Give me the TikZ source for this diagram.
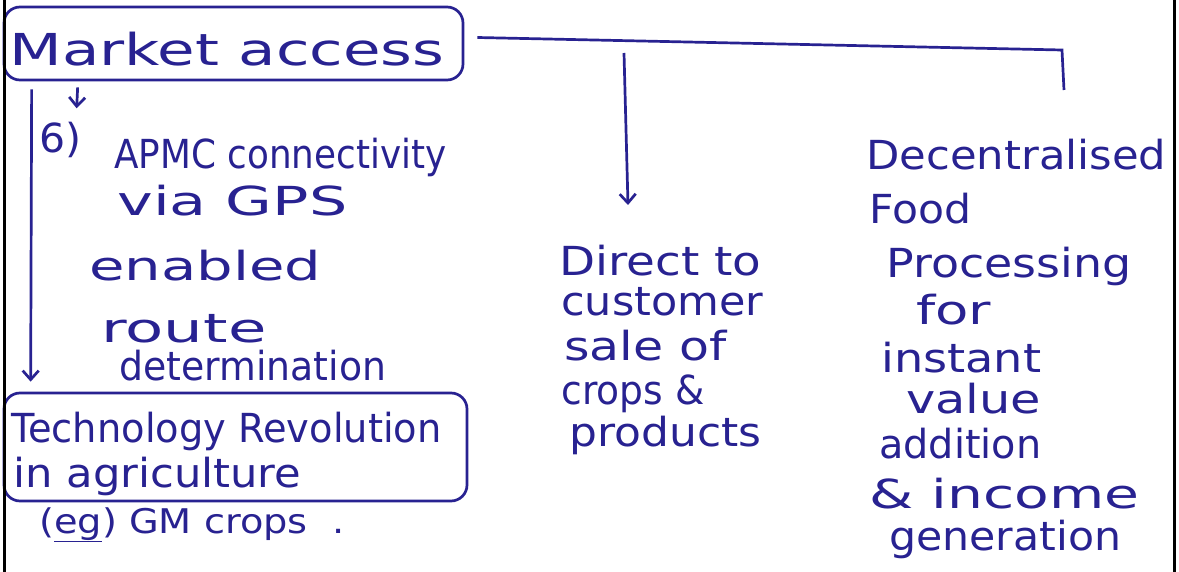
\documentclass[tikz,border=0pt]{standalone}
\usepackage{fontspec}
\setmainfont{DejaVu Sans}
\usepackage{graphicx}
\usetikzlibrary{arrows.meta}
\definecolor{ink}{RGB}{40,34,145}
\newcommand\hw[2]{\resizebox{#1pt}{\height}{#2}}
\begin{document}
\begin{tikzpicture}[x=1pt,y=-1pt,
  line width=2.7pt, draw=ink,
  txt/.style={anchor=base west, inner sep=0pt, text=ink, font=\fontsize{40}{44}\selectfont},
  smalltxt/.style={txt, font=\fontsize{34}{38}\selectfont},
  bigtxt/.style={txt, font=\fontsize{44}{48}\selectfont},
  hbox/.style={draw=ink, rounded corners=16pt, inner sep=0pt},
  arr/.style={-{Straight Barb[length=9pt,width=16pt,line width=2.7pt]}},
  frameline/.style={draw=black, line width=3pt}]
\useasboundingbox (0,0) rectangle (1179,572);
\fill[white] (0,0) rectangle (1179,572);

% boxes
\node[hbox, minimum width=459pt, minimum height=73pt] (mk) at (233.5,43.5) {};
\node[hbox, minimum width=463pt, minimum height=108pt] (tech) at (235.5,447) {};

% frame
\draw[frameline] (4,0) -- (4,572);
\draw[frameline] (1174,0) -- (1174,572);

% texts
\node[bigtxt] (mktxt) at (8,66) {\hw{435}{Market access}};
\node[txt] (six) at (38,153) {\hw{42}{6)}};
\node[txt] (apmc) at (113,169) {\hw{332}{APMC connectivity}};
\node[txt] (via) at (116,216) {\hw{230}{via GPS}};
\node[txt] (enab) at (88,281) {\hw{232}{enabled}};
\node[txt] (route) at (100,342) {\hw{165}{route}};
\node[txt] (det) at (118,381) {\hw{267}{determination}};

\node[txt] (tech1) at (10,442) {\hw{430}{Technology Revolution}};
\node[txt] (tech2) at (12,487) {\hw{288}{in agriculture}};
\node[smalltxt] (eg) at (38,533) {\hw{305}{(\underline{eg}) GM crops\ \ .}};

\node[txt] (d1) at (558,276) {\hw{202}{Direct to}};
\node[txt] (d2) at (560,316) {\hw{202}{customer}};
\node[txt] (d3) at (563,360) {\hw{162}{sale of}};
\node[txt] (d4) at (560,404) {\hw{143}{crops \&}};
\node[txt] (d5) at (568,446) {\hw{192}{products}};

\node[txt] (r1) at (865,170) {\hw{300}{Decentralised}};
\node[txt] (r2) at (868,224) {\hw{102}{Food}};
\node[txt] (r3) at (885,278) {\hw{245}{Processing}};
\node[txt] (r4) at (915,324) {\hw{75}{for}};
\node[txt] (r5) at (880,372) {\hw{160}{instant}};
\node[txt] (r6) at (905,413) {\hw{135}{value}};
\node[txt] (r7) at (878,458) {\hw{162}{addition}};
\node[txt] (r8) at (868,508) {\hw{270}{\& income}};
\node[txt] (r9) at (888,550) {\hw{232}{generation}};

% connectors
\coordinate (h0) at ([shift={(13,-6)}]mk.east);
\coordinate (hc) at (1062,50);
\coordinate (h1) at (1064,90);
\draw (h0) -- (hc) -- (h1);

\coordinate (m0) at (624,53);
\coordinate (m1) at (628,205);
\draw[arr] (m0) -- (m1);

\draw[arr] ([shift={(75,6)}]mk.south west) -- ([shift={(74,27)}]mk.south west);
\draw[arr] ([shift={(29,8)}]mk.south west) -- ([shift={(28,-10)}]tech.north west);
\end{tikzpicture}
\end{document}
